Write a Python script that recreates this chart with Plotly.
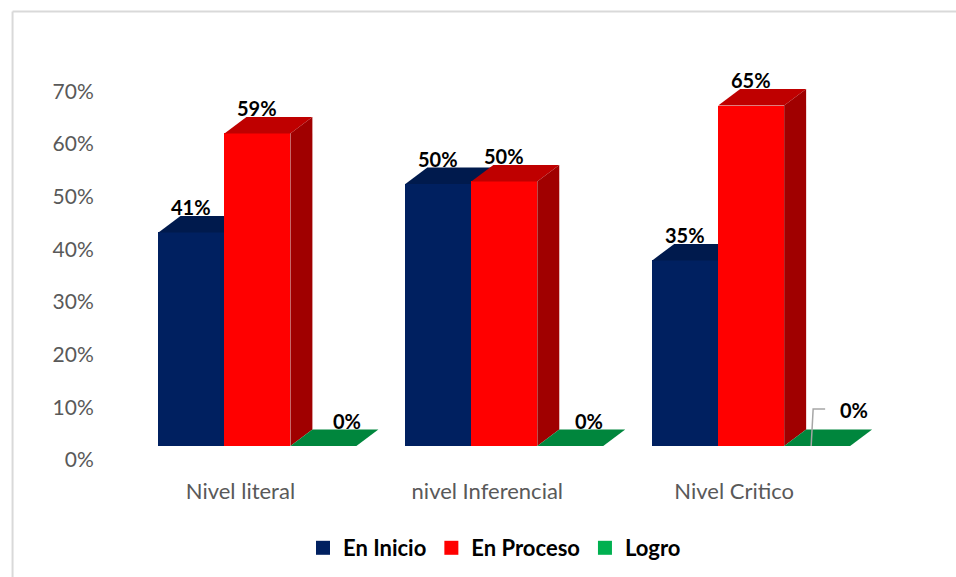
import plotly.graph_objects as go

categories = ["Nivel literal", "nivel Inferencial", "Nivel Critico"]
series_names = ["En Inicio", "En Proceso", "Logro"]
# Printed data labels (percent)
en_inicio = [41, 50, 35]
en_proceso = [59, 50, 65]
logro = [0, 0, 0]
# Top of each front face (percent)
en_inicio_axis = [43.2, 52.4, 37.9]
en_proceso_axis = [62.0, 52.9, 67.3]
logro_axis = [2.66, 2.66, 2.66]
floor_level = 2.66
y_ticks = [0, 10, 20, 30, 40, 50, 60, 70]

front_colors = ["#002060", "#FF0000", "#00B050"]
top_colors = ["#001A4D", "#BF0000", "#00863D"]
side_colors = ["#00143A", "#A00000", "#00863D"]
GRAY = "#595959"

# Layout in pixels
W, H = 956, 577
PX_X = 247.0
PX_Y = (460 - 91) / 70
X0 = 240.0
XR = (-0.5, 2.7)
YR = (0, 75)
left = X0 + XR[0] * PX_X
plot_w = (XR[1] - XR[0]) * PX_X
bottom_px = 460
plot_h = YR[1] * PX_Y

bar_w = 66 / PX_X
dx = 22 / PX_X
dy = 16.5 / PX_Y
bar_offsets = [-49 / PX_X, 17 / PX_X, 83 / PX_X]


def px(p):
    return (p - left) / plot_w


def py(p):
    return (bottom_px - p) / plot_h


fig = go.Figure()
tops = [en_inicio_axis, en_proceso_axis, logro_axis]
labels = [en_inicio, en_proceso, logro]
annotations = []
label_shift = {(2, 0): (24, 9), (2, 1): (19, 9), (2, 2): (37, 20)}

for s, name in enumerate(series_names):
    xs = [i + bar_offsets[s] for i in range(len(categories))]
    fig.add_trace(go.Bar(
        x=xs, y=[t - floor_level for t in tops[s]], base=floor_level,
        width=bar_w, name=name, marker=dict(color=front_colors[s], line=dict(width=0)),
        hoverinfo="skip", zorder=s, showlegend=False,
    ))
    # Legend key with the reference's larger square swatch
    fig.add_trace(go.Scatter(
        x=[None], y=[None], mode="markers", name=name,
        marker=dict(symbol="square", size=14, color=front_colors[s], line=dict(width=0)),
        hoverinfo="skip",
    ))
    for i, x in enumerate(xs):
        t = tops[s][i]
        l, r = x - bar_w / 2, x + bar_w / 2
        fig.add_trace(go.Scatter(
            x=[l, r, r + dx, l + dx, l], y=[t, t, t + dy, t + dy, t],
            mode="lines", fill="toself", fillcolor=top_colors[s], line=dict(width=0),
            showlegend=False, hoverinfo="skip", cliponaxis=False, zorder=s,
        ))
        if s < 2:
            fig.add_trace(go.Scatter(
                x=[r, r + dx, r + dx, r, r],
                y=[t, t + dy, floor_level + dy, floor_level, t],
                mode="lines", fill="toself", fillcolor=side_colors[s], line=dict(width=0),
                showlegend=False, hoverinfo="skip", cliponaxis=False, zorder=s,
            ))
        sx, sy = label_shift.get((s, i), (0, 9))
        annotations.append(dict(
            x=x, y=t + dy, xref="x", yref="y", text=f"{labels[s][i]}%", showarrow=False,
            xanchor="center", yanchor="middle", xshift=sx, yshift=sy,
            font=dict(family="Lato, sans-serif", size=20, color="#000000", weight="bold"),
        ))

# Leader line of the last 0% label
lead = 2 + bar_offsets[2]
fig.add_trace(go.Scatter(
    x=[lead - 6 / PX_X, lead - 4 / PX_X, lead + 8 / PX_X],
    y=[floor_level, floor_level + 37 / PX_Y, floor_level + 37 / PX_Y],
    mode="lines", line=dict(color="#A6A6A6", width=1.5), showlegend=False,
    hoverinfo="skip", zorder=3,
))

border = dict(type="line", xref="paper", yref="paper", line=dict(color="#D9D9D9", width=2), layer="below")
shapes = [
    dict(border, x0=px(12), x1=px(956), y0=py(11), y1=py(11)),
    dict(border, x0=px(12), x1=px(12), y0=py(11), y1=py(577)),
]

fig.update_layout(
    width=W, height=H, paper_bgcolor="white", plot_bgcolor="white",
    margin=dict(l=left, r=W - left - plot_w, t=bottom_px - plot_h, b=H - bottom_px, pad=0),
    barmode="overlay", bargap=0, annotations=annotations, shapes=shapes,
    font=dict(family="Lato, sans-serif", color=GRAY),
    xaxis=dict(
        range=list(XR), tickmode="array", tickvals=[0, 1, 2], ticktext=categories,
        showgrid=False, zeroline=False, showline=False, ticks="outside", ticklen=12,
        automargin=False,
        tickcolor="rgba(0,0,0,0)", tickfont=dict(size=22, color=GRAY, family="Lato, sans-serif"),
    ),
    yaxis=dict(
        range=list(YR), tickmode="array", tickvals=y_ticks, ticktext=[f"{v}%" for v in y_ticks],
        showgrid=False, zeroline=False, showline=False, ticks="outside", ticklen=18,
        automargin=False,
        tickcolor="rgba(0,0,0,0)", tickfont=dict(size=21, color=GRAY, family="Lato, sans-serif"),
    ),
    legend=dict(
        orientation="h", xref="container", yref="container",
        x=(316 - 13) / W, y=(H - 548) / H, xanchor="left", yanchor="middle",
        font=dict(size=22, color="#000000", family="Lato, sans-serif", weight="bold"),
        bgcolor="rgba(0,0,0,0)", traceorder="normal", itemclick=False, itemdoubleclick=False,
    ),
)

fig.write_html("out.html", config={"displayModeBar": False},
               post_script="document.body.style.margin='0';document.body.style.overflow='hidden';")
